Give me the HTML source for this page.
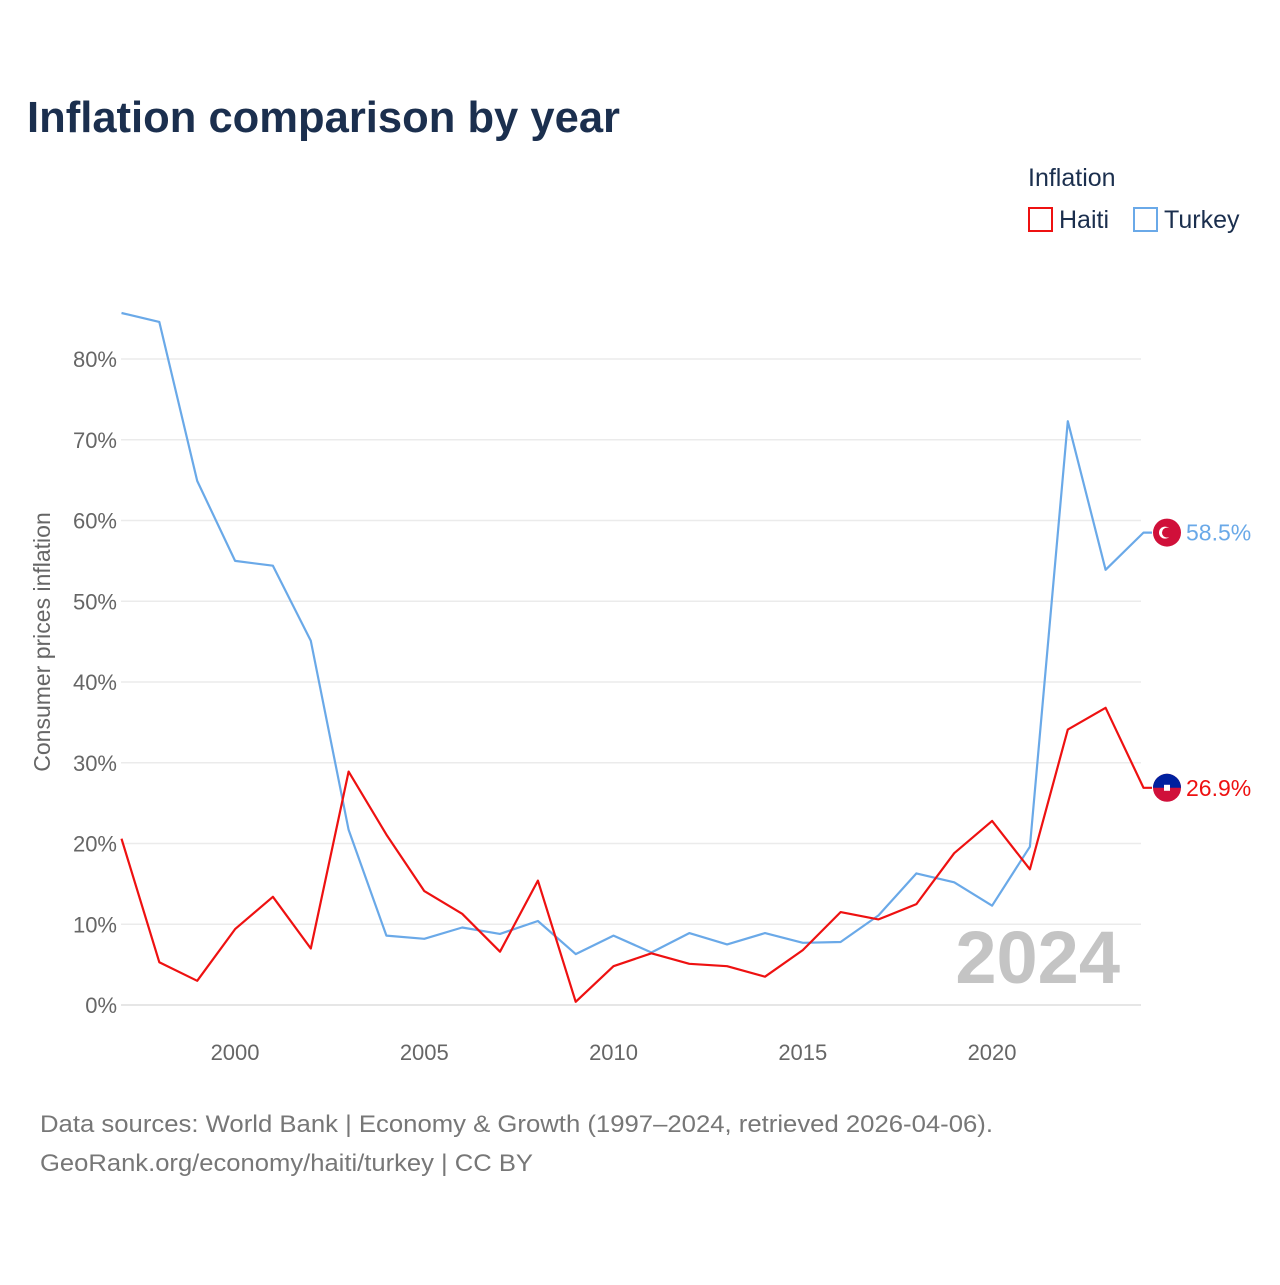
<!DOCTYPE html>
<html><head><meta charset="utf-8"><style>
body{margin:0;background:#fff;font-family:"Liberation Sans",sans-serif;}
svg text{font-family:"Liberation Sans",sans-serif;}
</style></head><body>
<svg id="chart" width="1280" height="1280" viewBox="0 0 1280 1280" xmlns="http://www.w3.org/2000/svg">
<rect width="1280" height="1280" fill="#fff"/>
<text x="27" y="132" font-size="44" font-weight="bold" fill="#1b2f4e" textLength="593" lengthAdjust="spacingAndGlyphs">Inflation comparison by year</text>
<text x="1028" y="186" font-size="25" fill="#1b2f4e">Inflation</text>
<g><rect x="1029" y="208" width="23" height="23" fill="none" stroke="#ee1111" stroke-width="2"/><text x="1059" y="228" font-size="25" fill="#1b2f4e">Haiti</text></g>
<g><rect x="1134" y="208" width="23" height="23" fill="none" stroke="#6aa9e8" stroke-width="2"/><text x="1164" y="228" font-size="25" fill="#1b2f4e">Turkey</text></g>
<text transform="translate(50,642) rotate(-90)" text-anchor="middle" font-size="23" fill="#666">Consumer prices inflation</text>
<g id="grid"></g><g id="yt"></g><g id="xt"></g>
<text x="1120" y="983" text-anchor="end" font-size="74" font-weight="bold" fill="#c4c4c4">2024</text>
<g id="lines"></g>
<text x="40" y="1132" font-size="24" fill="#777" textLength="953" lengthAdjust="spacingAndGlyphs">Data sources: World Bank | Economy &amp; Growth (1997–2024, retrieved 2026-04-06).</text>
<text x="40" y="1171" font-size="24" fill="#777" textLength="493" lengthAdjust="spacingAndGlyphs">GeoRank.org/economy/haiti/turkey | CC BY</text>
</svg>
<script>
const years=[1997,1998,1999,2000,2001,2002,2003,2004,2005,2006,2007,2008,2009,2010,2011,2012,2013,2014,2015,2016,2017,2018,2019,2020,2021,2022,2023,2024];
const turkey=[85.7,84.6,64.9,55.0,54.4,45.1,21.7,8.6,8.2,9.6,8.8,10.4,6.3,8.6,6.5,8.9,7.5,8.9,7.7,7.8,11.1,16.3,15.2,12.3,19.6,72.3,53.9,58.5];
const haiti=[20.6,5.3,3.0,9.4,13.4,7.0,28.9,21.1,14.1,11.3,6.6,15.4,0.4,4.8,6.4,5.1,4.8,3.5,6.8,11.5,10.6,12.5,18.8,22.8,16.8,34.1,36.8,26.9];
const yTicks=[0,10,20,30,40,50,60,70,80];
const xTicks=[2000,2005,2010,2015,2020];
const NS="http://www.w3.org/2000/svg";
const X=y=>121.5+(y-1997)*37.85;
const Y=v=>1005-v*8.075;
function mk(t,a,p){const e=document.createElementNS(NS,t);for(const k in a)e.setAttribute(k,a[k]);p.appendChild(e);return e;}
const grid=document.getElementById('grid'),yt=document.getElementById('yt'),xt=document.getElementById('xt'),ln=document.getElementById('lines');
yTicks.forEach(v=>{
 const l=mk('line',{x1:121,x2:1141,y1:Y(v),y2:Y(v),stroke:v===0?'#ddd':'#ebebeb','stroke-width':1.5},grid);
 
 
 const t=mk('text',{x:117,y:Y(v)+8,'text-anchor':'end','font-size':22,fill:'#666'},yt);t.textContent=v+'%';
 
 
});
xTicks.forEach(v=>{
 const t=mk('text',{x:X(v),y:1060,'text-anchor':'middle','font-size':22,fill:'#666'},xt);t.textContent=v;
 
 
});
function series(vals,color,name){
 let d=vals.map((v,i)=>(i?'L':'M')+X(years[i]).toFixed(1)+','+Y(v).toFixed(1)).join(' ');
 const last=vals[vals.length-1];
 d+=' L1152,'+Y(last).toFixed(1);
 const p=mk('path',{d:d,fill:'none',stroke:color,'stroke-width':2.2,'stroke-linejoin':'round'},ln);
 
 
 const c=mk('circle',{cx:1167,cy:Y(last),r:14,fill:'#d0103a'},ln);
 
 
 if(name==='haiti'){mk('path',{d:`M1153,${Y(last)} a14,14 0 0 1 28,0 z`,fill:'#00209f'},ln);mk('rect',{x:1164,y:Y(last)-3,width:6,height:6,fill:'#fff'},ln);}
 else{mk('circle',{cx:1165,cy:Y(last),r:6,fill:'#fff'},ln);mk('circle',{cx:1167,cy:Y(last),r:5,fill:'#d0103a'},ln);}
 const t=mk('text',{x:1186,y:Y(last)+8,'font-size':23,fill:color},ln);t.textContent=last.toFixed(1)+'%';
 
 
}
series(turkey,'#6aa9e8','turkey');
series(haiti,'#ee1111','haiti');
</script>
</body></html>
